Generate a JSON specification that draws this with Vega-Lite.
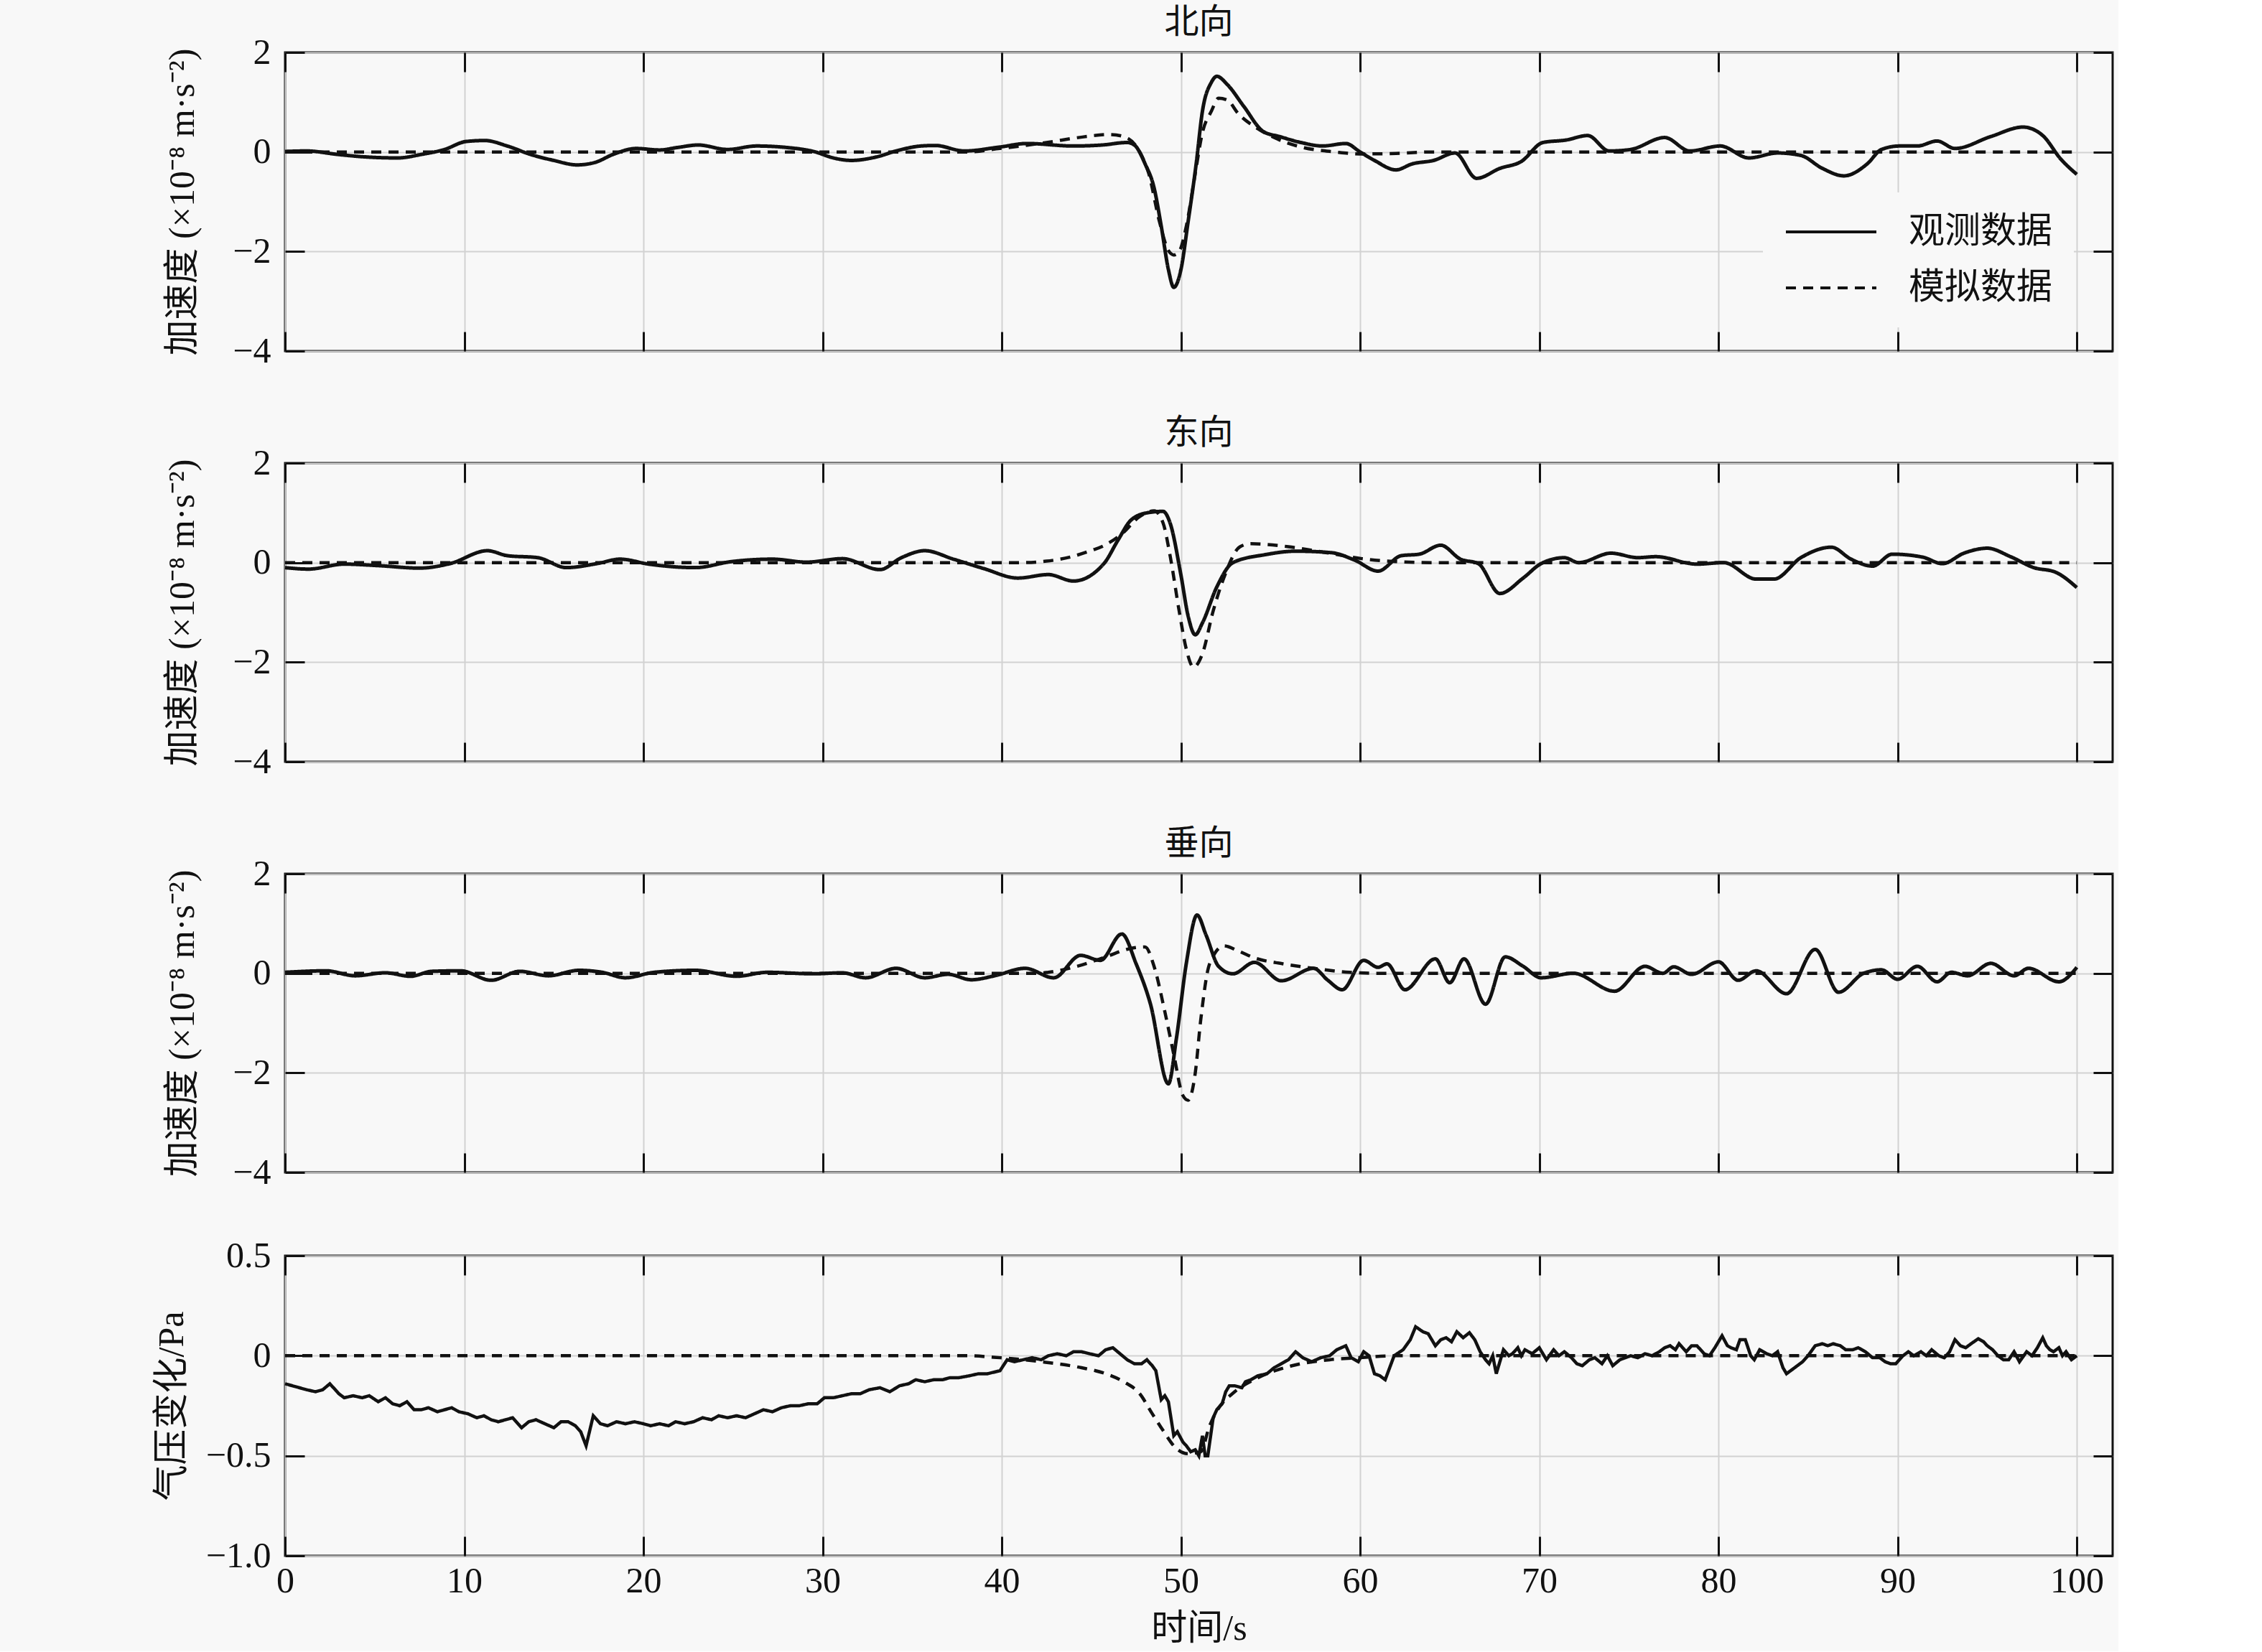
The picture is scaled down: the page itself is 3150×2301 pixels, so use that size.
{
  "$schema": "https://vega.github.io/schema/vega-lite/v6.json",
  "background": "#f8f8f8",
  "padding": {"left": 212, "top": 6, "right": 5, "bottom": 5},
  "spacing": 62,
  "datasets": {
    "n": [
      {"t":0,"v":0.01,"s":"观测数据"},{"t":1.2,"v":0.02,"s":"观测数据"},{"t":2.95,"v":-0.05,"s":"观测数据"},{"t":4.5,"v":-0.1,"s":"观测数据"},{"t":6.3,"v":-0.12,"s":"观测数据"},{"t":7.6,"v":-0.05,"s":"观测数据"},{"t":8.9,"v":0.05,"s":"观测数据"},{"t":10.1,"v":0.21,"s":"观测数据"},{"t":11.15,"v":0.23,"s":"观测数据"},{"t":12.4,"v":0.12,"s":"观测数据"},{"t":13.7,"v":-0.05,"s":"观测数据"},{"t":15,"v":-0.17,"s":"观测数据"},{"t":16.3,"v":-0.26,"s":"观测数据"},{"t":17.3,"v":-0.21,"s":"观测数据"},{"t":18.3,"v":-0.05,"s":"观测数据"},{"t":19.6,"v":0.07,"s":"观测数据"},{"t":20.9,"v":0.04,"s":"观测数据"},{"t":21.9,"v":0.09,"s":"观测数据"},{"t":23.05,"v":0.14,"s":"观测数据"},{"t":24.7,"v":0.05,"s":"观测数据"},{"t":26.3,"v":0.12,"s":"观测数据"},{"t":28,"v":0.09,"s":"观测数据"},{"t":29.6,"v":0,"s":"观测数据"},{"t":30.6,"v":-0.12,"s":"观测数据"},{"t":31.6,"v":-0.17,"s":"观测数据"},{"t":33,"v":-0.1,"s":"观测数据"},{"t":34.2,"v":0.03,"s":"观测数据"},{"t":35.5,"v":0.12,"s":"观测数据"},{"t":36.3,"v":0.13,"s":"观测数据"},{"t":37.9,"v":0.02,"s":"观测数据"},{"t":39.9,"v":0.1,"s":"观测数据"},{"t":41.4,"v":0.17,"s":"观测数据"},{"t":44,"v":0.12,"s":"观测数据"},{"t":45.6,"v":0.14,"s":"观测数据"},{"t":47,"v":0.19,"s":"观测数据"},{"t":47.4,"v":0.14,"s":"观测数据"},{"t":48,"v":-0.24,"s":"观测数据"},{"t":48.5,"v":-0.72,"s":"观测数据"},{"t":48.9,"v":-1.49,"s":"观测数据"},{"t":49.3,"v":-2.36,"s":"观测数据"},{"t":49.6,"v":-2.72,"s":"观测数据"},{"t":50,"v":-2.36,"s":"观测数据"},{"t":50.4,"v":-1.4,"s":"观测数据"},{"t":50.85,"v":-0.24,"s":"观测数据"},{"t":51.2,"v":0.82,"s":"观测数据"},{"t":51.7,"v":1.4,"s":"观测数据"},{"t":52,"v":1.52,"s":"观测数据"},{"t":52.6,"v":1.35,"s":"观测数据"},{"t":53.5,"v":0.92,"s":"观测数据"},{"t":54.6,"v":0.41,"s":"观测数据"},{"t":55.5,"v":0.31,"s":"观测数据"},{"t":56.7,"v":0.19,"s":"观测数据"},{"t":57.9,"v":0.12,"s":"观测数据"},{"t":59.2,"v":0.17,"s":"观测数据"},{"t":60,"v":0,"s":"观测数据"},{"t":60.8,"v":-0.17,"s":"观测数据"},{"t":62,"v":-0.36,"s":"观测数据"},{"t":62.9,"v":-0.24,"s":"观测数据"},{"t":64.1,"v":-0.17,"s":"观测数据"},{"t":65.3,"v":-0.02,"s":"观测数据"},{"t":66.5,"v":-0.53,"s":"观测数据"},{"t":67.8,"v":-0.33,"s":"观测数据"},{"t":69,"v":-0.19,"s":"观测数据"},{"t":70.2,"v":0.19,"s":"观测数据"},{"t":71.5,"v":0.24,"s":"观测数据"},{"t":72.7,"v":0.33,"s":"观测数据"},{"t":73.9,"v":0.02,"s":"观测数据"},{"t":75.1,"v":0.05,"s":"观测数据"},{"t":77,"v":0.29,"s":"观测数据"},{"t":78.4,"v":0.02,"s":"观测数据"},{"t":80.1,"v":0.12,"s":"观测数据"},{"t":81.7,"v":-0.12,"s":"观测数据"},{"t":83.3,"v":-0.02,"s":"观测数据"},{"t":84.6,"v":-0.07,"s":"观测数据"},{"t":85.8,"v":-0.33,"s":"观测数据"},{"t":87,"v":-0.48,"s":"观测数据"},{"t":88.3,"v":-0.24,"s":"观测数据"},{"t":89.1,"v":0.05,"s":"观测数据"},{"t":90.1,"v":0.12,"s":"观测数据"},{"t":91.1,"v":0.12,"s":"观测数据"},{"t":92.2,"v":0.22,"s":"观测数据"},{"t":93.2,"v":0.07,"s":"观测数据"},{"t":95.2,"v":0.31,"s":"观测数据"},{"t":97,"v":0.5,"s":"观测数据"},{"t":98.1,"v":0.33,"s":"观测数据"},{"t":99.1,"v":-0.14,"s":"观测数据"},{"t":100,"v":-0.45,"s":"观测数据"},
      {"t":0,"v":0,"s":"模拟数据"},{"t":38,"v":0,"s":"模拟数据"},{"t":39.9,"v":0.07,"s":"模拟数据"},{"t":42.5,"v":0.19,"s":"模拟数据"},{"t":44.5,"v":0.3,"s":"模拟数据"},{"t":46,"v":0.35,"s":"模拟数据"},{"t":46.8,"v":0.31,"s":"模拟数据"},{"t":47.7,"v":0,"s":"模拟数据"},{"t":48.2,"v":-0.43,"s":"模拟数据"},{"t":48.8,"v":-1.4,"s":"模拟数据"},{"t":49.3,"v":-1.98,"s":"模拟数据"},{"t":49.6,"v":-2.07,"s":"模拟数据"},{"t":49.9,"v":-2.0,"s":"模拟数据"},{"t":50.3,"v":-1.49,"s":"模拟数据"},{"t":50.8,"v":-0.43,"s":"模拟数据"},{"t":51.2,"v":0.39,"s":"模拟数据"},{"t":51.7,"v":0.82,"s":"模拟数据"},{"t":52.1,"v":1.08,"s":"模拟数据"},{"t":52.6,"v":1.04,"s":"模拟数据"},{"t":53.2,"v":0.77,"s":"模拟数据"},{"t":54.1,"v":0.51,"s":"模拟数据"},{"t":55.2,"v":0.29,"s":"模拟数据"},{"t":56.7,"v":0.1,"s":"模拟数据"},{"t":58.6,"v":0,"s":"模拟数据"},{"t":60,"v":-0.04,"s":"模拟数据"},{"t":62,"v":-0.03,"s":"模拟数据"},{"t":64,"v":0,"s":"模拟数据"},{"t":100,"v":0,"s":"模拟数据"}
    ],
    "e": [
      {"t":0,"v":-0.1,"s":"观测数据"},{"t":1.3,"v":-0.13,"s":"观测数据"},{"t":3.3,"v":-0.03,"s":"观测数据"},{"t":5.2,"v":-0.06,"s":"观测数据"},{"t":7.5,"v":-0.11,"s":"观测数据"},{"t":9.2,"v":-0.02,"s":"观测数据"},{"t":11.3,"v":0.24,"s":"观测数据"},{"t":12.4,"v":0.14,"s":"观测数据"},{"t":14.1,"v":0.1,"s":"观测数据"},{"t":15.7,"v":-0.1,"s":"观测数据"},{"t":17.4,"v":-0.02,"s":"观测数据"},{"t":18.7,"v":0.07,"s":"观测数据"},{"t":20.3,"v":-0.03,"s":"观测数据"},{"t":22.9,"v":-0.1,"s":"观测数据"},{"t":24.9,"v":0.02,"s":"观测数据"},{"t":27.2,"v":0.07,"s":"观测数据"},{"t":29.1,"v":0.01,"s":"观测数据"},{"t":31.1,"v":0.08,"s":"观测数据"},{"t":33.2,"v":-0.14,"s":"观测数据"},{"t":34.4,"v":0.1,"s":"观测数据"},{"t":35.7,"v":0.24,"s":"观测数据"},{"t":37.3,"v":0.07,"s":"观测数据"},{"t":39,"v":-0.12,"s":"观测数据"},{"t":40.9,"v":-0.31,"s":"观测数据"},{"t":42.6,"v":-0.24,"s":"观测数据"},{"t":44,"v":-0.37,"s":"观测数据"},{"t":45.7,"v":-0.02,"s":"观测数据"},{"t":46.5,"v":0.46,"s":"观测数据"},{"t":47.2,"v":0.85,"s":"观测数据"},{"t":48.1,"v":1.0,"s":"观测数据"},{"t":49,"v":1.03,"s":"观测数据"},{"t":49.4,"v":0.79,"s":"观测数据"},{"t":50,"v":-0.25,"s":"观测数据"},{"t":50.4,"v":-1.07,"s":"观测数据"},{"t":50.8,"v":-1.45,"s":"观测数据"},{"t":51.2,"v":-1.21,"s":"观测数据"},{"t":52,"v":-0.49,"s":"观测数据"},{"t":52.9,"v":0,"s":"观测数据"},{"t":54.7,"v":0.16,"s":"观测数据"},{"t":56.4,"v":0.23,"s":"观测数据"},{"t":58.4,"v":0.2,"s":"观测数据"},{"t":59.7,"v":0.05,"s":"观测数据"},{"t":61,"v":-0.17,"s":"观测数据"},{"t":62.3,"v":0.14,"s":"观测数据"},{"t":63.3,"v":0.17,"s":"观测数据"},{"t":64.5,"v":0.35,"s":"观测数据"},{"t":65.6,"v":0.07,"s":"观测数据"},{"t":66.6,"v":-0.02,"s":"观测数据"},{"t":67.8,"v":-0.62,"s":"观测数据"},{"t":69.1,"v":-0.31,"s":"观测数据"},{"t":70.1,"v":-0.02,"s":"观测数据"},{"t":71.4,"v":0.1,"s":"观测数据"},{"t":72.2,"v":0,"s":"观测数据"},{"t":74,"v":0.19,"s":"观测数据"},{"t":75.5,"v":0.1,"s":"观测数据"},{"t":76.5,"v":0.12,"s":"观测数据"},{"t":78.8,"v":-0.03,"s":"观测数据"},{"t":80.3,"v":0,"s":"观测数据"},{"t":82.1,"v":-0.33,"s":"观测数据"},{"t":83.1,"v":-0.33,"s":"观测数据"},{"t":84.6,"v":0.1,"s":"观测数据"},{"t":86.3,"v":0.31,"s":"观测数据"},{"t":87.4,"v":0.07,"s":"观测数据"},{"t":88.6,"v":-0.07,"s":"观测数据"},{"t":89.7,"v":0.17,"s":"观测数据"},{"t":91.4,"v":0.11,"s":"观测数据"},{"t":92.5,"v":-0.02,"s":"观测数据"},{"t":93.7,"v":0.19,"s":"观测数据"},{"t":95,"v":0.29,"s":"观测数据"},{"t":96.3,"v":0.12,"s":"观测数据"},{"t":97.6,"v":-0.1,"s":"观测数据"},{"t":98.8,"v":-0.19,"s":"观测数据"},{"t":100,"v":-0.5,"s":"观测数据"},
      {"t":0,"v":0,"s":"模拟数据"},{"t":41,"v":0,"s":"模拟数据"},{"t":42.5,"v":0.03,"s":"模拟数据"},{"t":43.9,"v":0.12,"s":"模拟数据"},{"t":44.8,"v":0.22,"s":"模拟数据"},{"t":45.8,"v":0.36,"s":"模拟数据"},{"t":46.8,"v":0.61,"s":"模拟数据"},{"t":47.6,"v":0.9,"s":"模拟数据"},{"t":48.5,"v":1.04,"s":"模拟数据"},{"t":49,"v":0.8,"s":"模拟数据"},{"t":49.4,"v":0.13,"s":"模拟数据"},{"t":49.9,"v":-0.97,"s":"模拟数据"},{"t":50.3,"v":-1.74,"s":"模拟数据"},{"t":50.7,"v":-2.1,"s":"模拟数据"},{"t":51.2,"v":-1.83,"s":"模拟数据"},{"t":51.8,"v":-0.97,"s":"模拟数据"},{"t":52.4,"v":-0.3,"s":"模拟数据"},{"t":53.3,"v":0.32,"s":"模拟数据"},{"t":53.9,"v":0.38,"s":"模拟数据"},{"t":54.6,"v":0.37,"s":"模拟数据"},{"t":56,"v":0.32,"s":"模拟数据"},{"t":57.8,"v":0.22,"s":"模拟数据"},{"t":60.1,"v":0.08,"s":"模拟数据"},{"t":62,"v":0.02,"s":"模拟数据"},{"t":64,"v":0,"s":"模拟数据"},{"t":100,"v":0,"s":"模拟数据"}
    ],
    "z": [
      {"t":0,"v":0.02,"s":"观测数据"},{"t":2.3,"v":0.05,"s":"观测数据"},{"t":3.9,"v":-0.05,"s":"观测数据"},{"t":5.6,"v":0.01,"s":"观测数据"},{"t":7,"v":-0.06,"s":"观测数据"},{"t":8.2,"v":0.04,"s":"观测数据"},{"t":9.8,"v":0.05,"s":"观测数据"},{"t":11.5,"v":-0.14,"s":"观测数据"},{"t":13.1,"v":0.04,"s":"观测数据"},{"t":14.7,"v":-0.05,"s":"观测数据"},{"t":16.4,"v":0.06,"s":"观测数据"},{"t":17.7,"v":0.02,"s":"观测数据"},{"t":19,"v":-0.09,"s":"观测数据"},{"t":20.6,"v":0.02,"s":"观测数据"},{"t":22.9,"v":0.06,"s":"观测数据"},{"t":25.2,"v":-0.06,"s":"观测数据"},{"t":26.9,"v":0.02,"s":"观测数据"},{"t":29.5,"v":-0.01,"s":"观测数据"},{"t":31.1,"v":0.01,"s":"观测数据"},{"t":32.4,"v":-0.09,"s":"观测数据"},{"t":34.1,"v":0.1,"s":"观测数据"},{"t":35.7,"v":-0.09,"s":"观测数据"},{"t":37,"v":-0.02,"s":"观测数据"},{"t":38.3,"v":-0.13,"s":"观测数据"},{"t":39.6,"v":-0.05,"s":"观测数据"},{"t":41.3,"v":0.1,"s":"观测数据"},{"t":42.9,"v":-0.09,"s":"观测数据"},{"t":44.4,"v":0.36,"s":"观测数据"},{"t":45.5,"v":0.26,"s":"观测数据"},{"t":46.7,"v":0.79,"s":"观测数据"},{"t":47.5,"v":0.19,"s":"观测数据"},{"t":48.3,"v":-0.62,"s":"观测数据"},{"t":49.3,"v":-2.22,"s":"观测数据"},{"t":49.75,"v":-1.3,"s":"观测数据"},{"t":50.3,"v":0.2,"s":"观测数据"},{"t":50.9,"v":1.17,"s":"观测数据"},{"t":51.4,"v":0.77,"s":"观测数据"},{"t":52.1,"v":0.14,"s":"观测数据"},{"t":52.9,"v":-0.01,"s":"观测数据"},{"t":54.1,"v":0.22,"s":"观测数据"},{"t":55.6,"v":-0.15,"s":"观测数据"},{"t":57.4,"v":0.1,"s":"观测数据"},{"t":58.2,"v":-0.14,"s":"观测数据"},{"t":59,"v":-0.33,"s":"观测数据"},{"t":60.2,"v":0.26,"s":"观测数据"},{"t":61,"v":0.12,"s":"观测数据"},{"t":61.5,"v":0.19,"s":"观测数据"},{"t":62.5,"v":-0.33,"s":"观测数据"},{"t":64.2,"v":0.29,"s":"观测数据"},{"t":65,"v":-0.19,"s":"观测数据"},{"t":65.8,"v":0.29,"s":"观测数据"},{"t":67,"v":-0.62,"s":"观测数据"},{"t":68.1,"v":0.33,"s":"观测数据"},{"t":69.1,"v":0.14,"s":"观测数据"},{"t":70.1,"v":-0.09,"s":"观测数据"},{"t":71.9,"v":0,"s":"观测数据"},{"t":74.2,"v":-0.36,"s":"观测数据"},{"t":75.9,"v":0.14,"s":"观测数据"},{"t":76.9,"v":0,"s":"观测数据"},{"t":77.5,"v":0.13,"s":"观测数据"},{"t":78.5,"v":-0.02,"s":"观测数据"},{"t":80,"v":0.23,"s":"观测数据"},{"t":81.1,"v":-0.14,"s":"观测数据"},{"t":82.1,"v":0.05,"s":"观测数据"},{"t":83.8,"v":-0.41,"s":"观测数据"},{"t":85.4,"v":0.48,"s":"观测数据"},{"t":86.7,"v":-0.38,"s":"观测数据"},{"t":88.1,"v":0,"s":"观测数据"},{"t":89.1,"v":0.07,"s":"观测数据"},{"t":90,"v":-0.12,"s":"观测数据"},{"t":91.1,"v":0.14,"s":"观测数据"},{"t":92.2,"v":-0.17,"s":"观测数据"},{"t":93,"v":0.02,"s":"观测数据"},{"t":93.9,"v":-0.05,"s":"观测数据"},{"t":95.2,"v":0.2,"s":"观测数据"},{"t":96.5,"v":-0.05,"s":"观测数据"},{"t":97.3,"v":0.1,"s":"观测数据"},{"t":99,"v":-0.17,"s":"观测数据"},{"t":100,"v":0.12,"s":"观测数据"},
      {"t":0,"v":0,"s":"模拟数据"},{"t":42,"v":0,"s":"模拟数据"},{"t":42.6,"v":0.02,"s":"模拟数据"},{"t":44.2,"v":0.14,"s":"模拟数据"},{"t":45.8,"v":0.33,"s":"模拟数据"},{"t":47.2,"v":0.5,"s":"模拟数据"},{"t":48,"v":0.53,"s":"模拟数据"},{"t":48.5,"v":0.14,"s":"模拟数据"},{"t":49.1,"v":-0.77,"s":"模拟数据"},{"t":49.6,"v":-1.63,"s":"模拟数据"},{"t":50.1,"v":-2.45,"s":"模拟数据"},{"t":50.4,"v":-2.55,"s":"模拟数据"},{"t":50.8,"v":-2.0,"s":"模拟数据"},{"t":51.1,"v":-0.95,"s":"模拟数据"},{"t":51.6,"v":0.19,"s":"模拟数据"},{"t":52.4,"v":0.55,"s":"模拟数据"},{"t":53.2,"v":0.45,"s":"模拟数据"},{"t":54.1,"v":0.31,"s":"模拟数据"},{"t":55.7,"v":0.19,"s":"模拟数据"},{"t":57.4,"v":0.1,"s":"模拟数据"},{"t":59.4,"v":0.02,"s":"模拟数据"},{"t":61,"v":0,"s":"模拟数据"},{"t":100,"v":0,"s":"模拟数据"}
    ],
    "p": [
      {"t":0,"v":-0.14,"s":"观测数据"},{"t":0.4,"v":-0.15,"s":"观测数据"},{"t":0.8,"v":-0.16,"s":"观测数据"},{"t":1.2,"v":-0.17,"s":"观测数据"},{"t":1.7,"v":-0.18,"s":"观测数据"},{"t":2.1,"v":-0.17,"s":"观测数据"},{"t":2.5,"v":-0.14,"s":"观测数据"},{"t":3,"v":-0.19,"s":"观测数据"},{"t":3.3,"v":-0.21,"s":"观测数据"},{"t":3.8,"v":-0.2,"s":"观测数据"},{"t":4.3,"v":-0.21,"s":"观测数据"},{"t":4.7,"v":-0.2,"s":"观测数据"},{"t":5.2,"v":-0.23,"s":"观测数据"},{"t":5.6,"v":-0.21,"s":"观测数据"},{"t":6,"v":-0.24,"s":"观测数据"},{"t":6.4,"v":-0.25,"s":"观测数据"},{"t":6.8,"v":-0.23,"s":"观测数据"},{"t":7.2,"v":-0.27,"s":"观测数据"},{"t":7.6,"v":-0.27,"s":"观测数据"},{"t":8,"v":-0.26,"s":"观测数据"},{"t":8.5,"v":-0.28,"s":"观测数据"},{"t":8.9,"v":-0.27,"s":"观测数据"},{"t":9.3,"v":-0.26,"s":"观测数据"},{"t":9.7,"v":-0.28,"s":"观测数据"},{"t":10.2,"v":-0.29,"s":"观测数据"},{"t":10.7,"v":-0.31,"s":"观测数据"},{"t":11.1,"v":-0.3,"s":"观测数据"},{"t":11.5,"v":-0.32,"s":"观测数据"},{"t":11.9,"v":-0.33,"s":"观测数据"},{"t":12.3,"v":-0.32,"s":"观测数据"},{"t":12.7,"v":-0.31,"s":"观测数据"},{"t":13.2,"v":-0.36,"s":"观测数据"},{"t":13.6,"v":-0.33,"s":"观测数据"},{"t":14,"v":-0.32,"s":"观测数据"},{"t":14.5,"v":-0.34,"s":"观测数据"},{"t":15,"v":-0.36,"s":"观测数据"},{"t":15.4,"v":-0.33,"s":"观测数据"},{"t":15.8,"v":-0.33,"s":"观测数据"},{"t":16.2,"v":-0.35,"s":"观测数据"},{"t":16.5,"v":-0.38,"s":"观测数据"},{"t":16.8,"v":-0.45,"s":"观测数据"},{"t":17.2,"v":-0.3,"s":"观测数据"},{"t":17.6,"v":-0.34,"s":"观测数据"},{"t":18,"v":-0.35,"s":"观测数据"},{"t":18.5,"v":-0.33,"s":"观测数据"},{"t":19,"v":-0.34,"s":"观测数据"},{"t":19.5,"v":-0.33,"s":"观测数据"},{"t":20,"v":-0.34,"s":"观测数据"},{"t":20.4,"v":-0.35,"s":"观测数据"},{"t":20.9,"v":-0.34,"s":"观测数据"},{"t":21.4,"v":-0.35,"s":"观测数据"},{"t":21.8,"v":-0.33,"s":"观测数据"},{"t":22.3,"v":-0.34,"s":"观测数据"},{"t":22.8,"v":-0.33,"s":"观测数据"},{"t":23.3,"v":-0.31,"s":"观测数据"},{"t":23.8,"v":-0.32,"s":"观测数据"},{"t":24.2,"v":-0.3,"s":"观测数据"},{"t":24.7,"v":-0.31,"s":"观测数据"},{"t":25.2,"v":-0.3,"s":"观测数据"},{"t":25.7,"v":-0.31,"s":"观测数据"},{"t":26.2,"v":-0.29,"s":"观测数据"},{"t":26.7,"v":-0.27,"s":"观测数据"},{"t":27.2,"v":-0.28,"s":"观测数据"},{"t":27.7,"v":-0.26,"s":"观测数据"},{"t":28.2,"v":-0.25,"s":"观测数据"},{"t":28.7,"v":-0.25,"s":"观测数据"},{"t":29.2,"v":-0.24,"s":"观测数据"},{"t":29.7,"v":-0.24,"s":"观测数据"},{"t":30.1,"v":-0.21,"s":"观测数据"},{"t":30.6,"v":-0.21,"s":"观测数据"},{"t":31.1,"v":-0.2,"s":"观测数据"},{"t":31.6,"v":-0.19,"s":"观测数据"},{"t":32.1,"v":-0.19,"s":"观测数据"},{"t":32.6,"v":-0.17,"s":"观测数据"},{"t":33.2,"v":-0.16,"s":"观测数据"},{"t":33.75,"v":-0.18,"s":"观测数据"},{"t":34.3,"v":-0.15,"s":"观测数据"},{"t":34.8,"v":-0.14,"s":"观测数据"},{"t":35.2,"v":-0.12,"s":"观测数据"},{"t":35.7,"v":-0.13,"s":"观测数据"},{"t":36.2,"v":-0.12,"s":"观测数据"},{"t":36.7,"v":-0.12,"s":"观测数据"},{"t":37.1,"v":-0.11,"s":"观测数据"},{"t":37.6,"v":-0.11,"s":"观测数据"},{"t":38.2,"v":-0.1,"s":"观测数据"},{"t":38.7,"v":-0.09,"s":"观测数据"},{"t":39.2,"v":-0.09,"s":"观测数据"},{"t":39.9,"v":-0.075,"s":"观测数据"},{"t":40.3,"v":-0.02,"s":"观测数据"},{"t":40.7,"v":-0.03,"s":"观测数据"},{"t":41.2,"v":-0.02,"s":"观测数据"},{"t":41.7,"v":-0.01,"s":"观测数据"},{"t":42.2,"v":-0.02,"s":"观测数据"},{"t":42.6,"v":0,"s":"观测数据"},{"t":43.1,"v":0.01,"s":"观测数据"},{"t":43.6,"v":0,"s":"观测数据"},{"t":44,"v":0.02,"s":"观测数据"},{"t":44.45,"v":0.02,"s":"观测数据"},{"t":44.9,"v":0.01,"s":"观测数据"},{"t":45.4,"v":0,"s":"观测数据"},{"t":45.8,"v":0.03,"s":"观测数据"},{"t":46.2,"v":0.04,"s":"观测数据"},{"t":46.6,"v":0.01,"s":"观测数据"},{"t":47,"v":-0.02,"s":"观测数据"},{"t":47.4,"v":-0.04,"s":"观测数据"},{"t":47.8,"v":-0.04,"s":"观测数据"},{"t":48.1,"v":-0.02,"s":"观测数据"},{"t":48.4,"v":-0.05,"s":"观测数据"},{"t":48.6,"v":-0.075,"s":"观测数据"},{"t":48.9,"v":-0.22,"s":"观测数据"},{"t":49.1,"v":-0.2,"s":"观测数据"},{"t":49.3,"v":-0.23,"s":"观测数据"},{"t":49.6,"v":-0.4,"s":"观测数据"},{"t":49.8,"v":-0.38,"s":"观测数据"},{"t":50.1,"v":-0.43,"s":"观测数据"},{"t":50.3,"v":-0.45,"s":"观测数据"},{"t":50.55,"v":-0.48,"s":"观测数据"},{"t":50.8,"v":-0.47,"s":"观测数据"},{"t":51,"v":-0.5,"s":"观测数据"},{"t":51.2,"v":-0.4,"s":"观测数据"},{"t":51.35,"v":-0.5,"s":"观测数据"},{"t":51.5,"v":-0.5,"s":"观测数据"},{"t":51.8,"v":-0.31,"s":"观测数据"},{"t":52,"v":-0.27,"s":"观测数据"},{"t":52.3,"v":-0.24,"s":"观测数据"},{"t":52.5,"v":-0.18,"s":"观测数据"},{"t":52.7,"v":-0.15,"s":"观测数据"},{"t":53,"v":-0.15,"s":"观测数据"},{"t":53.4,"v":-0.16,"s":"观测数据"},{"t":53.6,"v":-0.13,"s":"观测数据"},{"t":53.9,"v":-0.12,"s":"观测数据"},{"t":54.3,"v":-0.1,"s":"观测数据"},{"t":54.8,"v":-0.09,"s":"观测数据"},{"t":55.2,"v":-0.06,"s":"观测数据"},{"t":55.6,"v":-0.04,"s":"观测数据"},{"t":56,"v":-0.02,"s":"观测数据"},{"t":56.4,"v":0.02,"s":"观测数据"},{"t":56.8,"v":-0.01,"s":"观测数据"},{"t":57.3,"v":-0.03,"s":"观测数据"},{"t":57.8,"v":-0.01,"s":"观测数据"},{"t":58.3,"v":0,"s":"观测数据"},{"t":58.7,"v":0.03,"s":"观测数据"},{"t":59.2,"v":0.05,"s":"观测数据"},{"t":59.5,"v":-0.01,"s":"观测数据"},{"t":59.9,"v":-0.03,"s":"观测数据"},{"t":60.2,"v":0.02,"s":"观测数据"},{"t":60.5,"v":0,"s":"观测数据"},{"t":60.8,"v":-0.09,"s":"观测数据"},{"t":61.1,"v":-0.1,"s":"观测数据"},{"t":61.4,"v":-0.12,"s":"观测数据"},{"t":61.9,"v":0,"s":"观测数据"},{"t":62.4,"v":0.03,"s":"观测数据"},{"t":62.8,"v":0.08,"s":"观测数据"},{"t":63.1,"v":0.145,"s":"观测数据"},{"t":63.5,"v":0.12,"s":"观测数据"},{"t":63.8,"v":0.11,"s":"观测数据"},{"t":64.2,"v":0.05,"s":"观测数据"},{"t":64.5,"v":0.08,"s":"观测数据"},{"t":64.8,"v":0.09,"s":"观测数据"},{"t":65.1,"v":0.07,"s":"观测数据"},{"t":65.4,"v":0.12,"s":"观测数据"},{"t":65.75,"v":0.09,"s":"观测数据"},{"t":66.1,"v":0.115,"s":"观测数据"},{"t":66.4,"v":0.08,"s":"观测数据"},{"t":66.7,"v":0.02,"s":"观测数据"},{"t":67,"v":-0.02,"s":"观测数据"},{"t":67.2,"v":-0.04,"s":"观测数据"},{"t":67.4,"v":0,"s":"观测数据"},{"t":67.6,"v":-0.09,"s":"观测数据"},{"t":68,"v":0.03,"s":"观测数据"},{"t":68.3,"v":0,"s":"观测数据"},{"t":68.5,"v":0.01,"s":"观测数据"},{"t":68.8,"v":0.04,"s":"观测数据"},{"t":69,"v":0,"s":"观测数据"},{"t":69.2,"v":0.03,"s":"观测数据"},{"t":69.6,"v":0.01,"s":"观测数据"},{"t":70,"v":0.04,"s":"观测数据"},{"t":70.4,"v":-0.02,"s":"观测数据"},{"t":70.8,"v":0.03,"s":"观测数据"},{"t":71.1,"v":0,"s":"观测数据"},{"t":71.4,"v":0.02,"s":"观测数据"},{"t":71.8,"v":-0.01,"s":"观测数据"},{"t":72.1,"v":-0.04,"s":"观测数据"},{"t":72.4,"v":-0.05,"s":"观测数据"},{"t":72.8,"v":-0.02,"s":"观测数据"},{"t":73.1,"v":-0.01,"s":"观测数据"},{"t":73.5,"v":-0.04,"s":"观测数据"},{"t":73.8,"v":0,"s":"观测数据"},{"t":74.1,"v":-0.05,"s":"观测数据"},{"t":74.5,"v":-0.02,"s":"观测数据"},{"t":74.8,"v":-0.01,"s":"观测数据"},{"t":75.1,"v":0,"s":"观测数据"},{"t":75.5,"v":-0.01,"s":"观测数据"},{"t":75.9,"v":0.01,"s":"观测数据"},{"t":76.3,"v":0,"s":"观测数据"},{"t":76.7,"v":0.02,"s":"观测数据"},{"t":77,"v":0.04,"s":"观测数据"},{"t":77.3,"v":0.05,"s":"观测数据"},{"t":77.6,"v":0.03,"s":"观测数据"},{"t":77.8,"v":0.06,"s":"观测数据"},{"t":78.2,"v":0.02,"s":"观测数据"},{"t":78.5,"v":0.05,"s":"观测数据"},{"t":78.8,"v":0.05,"s":"观测数据"},{"t":79.2,"v":0.01,"s":"观测数据"},{"t":79.5,"v":0,"s":"观测数据"},{"t":79.8,"v":0.04,"s":"观测数据"},{"t":80.2,"v":0.1,"s":"观测数据"},{"t":80.5,"v":0.05,"s":"观测数据"},{"t":80.7,"v":0.04,"s":"观测数据"},{"t":81,"v":0.03,"s":"观测数据"},{"t":81.2,"v":0.08,"s":"观测数据"},{"t":81.5,"v":0.08,"s":"观测数据"},{"t":81.8,"v":0,"s":"观测数据"},{"t":82,"v":-0.02,"s":"观测数据"},{"t":82.3,"v":0.03,"s":"观测数据"},{"t":82.7,"v":0.01,"s":"观测数据"},{"t":83,"v":0,"s":"观测数据"},{"t":83.3,"v":0.02,"s":"观测数据"},{"t":83.6,"v":-0.06,"s":"观测数据"},{"t":83.8,"v":-0.09,"s":"观测数据"},{"t":84.1,"v":-0.07,"s":"观测数据"},{"t":84.4,"v":-0.05,"s":"观测数据"},{"t":84.7,"v":-0.03,"s":"观测数据"},{"t":85,"v":0,"s":"观测数据"},{"t":85.4,"v":0.05,"s":"观测数据"},{"t":85.8,"v":0.06,"s":"观测数据"},{"t":86.1,"v":0.05,"s":"观测数据"},{"t":86.4,"v":0.06,"s":"观测数据"},{"t":86.8,"v":0.05,"s":"观测数据"},{"t":87.1,"v":0.03,"s":"观测数据"},{"t":87.5,"v":0.03,"s":"观测数据"},{"t":87.8,"v":0.04,"s":"观测数据"},{"t":88.2,"v":0.02,"s":"观测数据"},{"t":88.6,"v":-0.01,"s":"观测数据"},{"t":89,"v":-0.01,"s":"观测数据"},{"t":89.3,"v":-0.03,"s":"观测数据"},{"t":89.6,"v":-0.04,"s":"观测数据"},{"t":89.9,"v":-0.04,"s":"观测数据"},{"t":90.3,"v":0,"s":"观测数据"},{"t":90.6,"v":0.02,"s":"观测数据"},{"t":90.9,"v":0,"s":"观测数据"},{"t":91.3,"v":0.02,"s":"观测数据"},{"t":91.6,"v":0,"s":"观测数据"},{"t":91.9,"v":0.03,"s":"观测数据"},{"t":92.3,"v":0,"s":"观测数据"},{"t":92.6,"v":-0.01,"s":"观测数据"},{"t":92.9,"v":0.02,"s":"观测数据"},{"t":93.2,"v":0.08,"s":"观测数据"},{"t":93.5,"v":0.05,"s":"观测数据"},{"t":93.8,"v":0.04,"s":"观测数据"},{"t":94.1,"v":0.06,"s":"观测数据"},{"t":94.5,"v":0.085,"s":"观测数据"},{"t":94.8,"v":0.07,"s":"观测数据"},{"t":95,"v":0.05,"s":"观测数据"},{"t":95.3,"v":0.03,"s":"观测数据"},{"t":95.6,"v":0,"s":"观测数据"},{"t":95.9,"v":-0.02,"s":"观测数据"},{"t":96.2,"v":-0.02,"s":"观测数据"},{"t":96.5,"v":0.02,"s":"观测数据"},{"t":96.8,"v":-0.03,"s":"观测数据"},{"t":97.2,"v":0.02,"s":"观测数据"},{"t":97.5,"v":0,"s":"观测数据"},{"t":97.8,"v":0.04,"s":"观测数据"},{"t":98.1,"v":0.09,"s":"观测数据"},{"t":98.3,"v":0.05,"s":"观测数据"},{"t":98.5,"v":0.03,"s":"观测数据"},{"t":98.7,"v":0.02,"s":"观测数据"},{"t":99,"v":0.04,"s":"观测数据"},{"t":99.2,"v":0,"s":"观测数据"},{"t":99.4,"v":0.02,"s":"观测数据"},{"t":99.7,"v":-0.02,"s":"观测数据"},{"t":100,"v":0,"s":"观测数据"},
      {"t":0,"v":0,"s":"模拟数据"},{"t":38,"v":0,"s":"模拟数据"},{"t":39.9,"v":-0.01,"s":"模拟数据"},{"t":42.2,"v":-0.03,"s":"模拟数据"},{"t":44.45,"v":-0.06,"s":"模拟数据"},{"t":45.8,"v":-0.09,"s":"模拟数据"},{"t":46.8,"v":-0.13,"s":"模拟数据"},{"t":47.7,"v":-0.19,"s":"模拟数据"},{"t":48.4,"v":-0.29,"s":"模拟数据"},{"t":49.05,"v":-0.38,"s":"模拟数据"},{"t":49.7,"v":-0.46,"s":"模拟数据"},{"t":50.4,"v":-0.49,"s":"模拟数据"},{"t":51.1,"v":-0.48,"s":"模拟数据"},{"t":51.6,"v":-0.35,"s":"模拟数据"},{"t":52.05,"v":-0.27,"s":"模拟数据"},{"t":53,"v":-0.18,"s":"模拟数据"},{"t":54.3,"v":-0.11,"s":"模拟数据"},{"t":56.2,"v":-0.05,"s":"模拟数据"},{"t":58.3,"v":-0.02,"s":"模拟数据"},{"t":60,"v":-0.01,"s":"模拟数据"},{"t":62,"v":0,"s":"模拟数据"},{"t":100,"v":0,"s":"模拟数据"}
    ]
  },
  "config": {
    "font": "Liberation Serif, Noto Sans CJK SC",
    "view": {"stroke": "#111111", "strokeWidth": 3, "fill": "#f8f8f8"},
    "axis": {
      "labelFont": "Liberation Serif, Noto Sans CJK SC", "labelFontSize": 50, "labelColor": "#111111",
      "titleFont": "Liberation Serif, Noto Sans CJK SC", "titleFontSize": 50, "titleFontWeight": "normal", "titleColor": "#111111",
      "gridColor": "#d2d2d2", "gridWidth": 2, "domain": false, "labelFlush": false,
      "tickColor": "#111111", "tickWidth": 3, "tickSize": -27, "labelPadding": 47
    },
    "title": {"font": "Liberation Serif, Noto Sans CJK SC", "fontSize": 48, "fontWeight": "normal", "color": "#111111", "offset": -8}
  },
  "resolve": {"scale": {"strokeDash": "independent"}, "legend": {"strokeDash": "independent"}},
  "vconcat": [
    {
      "width": 2545, "height": 416,
      "title": {"text": "北向"},
      "data": {"name": "n"},
      "layer": [
        {
          "transform": [{"filter": "datum.s == '观测数据'"}],
          "mark": {"type": "line", "interpolate": "monotone", "strokeWidth": 5, "color": "#111111"},
          "encoding": {
            "x": {"field": "t", "type": "quantitative", "scale": {"domain": [0, 102], "nice": false}, "axis": {"orient": "bottom", "values": [0,10,20,30,40,50,60,70,80,90,100], "labels": false, "title": null, "grid": true}},
            "y": {"field": "v", "type": "quantitative", "scale": {"domain": [-4, 2], "nice": false, "zero": false}, "axis": {"orient": "left", "values": [-4,-2,0,2], "title": "加速度 (×10⁻⁸ m·s⁻²)", "titleX": -118, "titleY": 208, "grid": true}},
            "strokeDash": {"field": "s", "type": "nominal", "scale": {"domain": ["观测数据", "模拟数据"], "range": [[1, 0], [14, 10]]},
              "legend": {"orient": "none", "legendX": 2058, "legendY": 195, "title": null, "symbolType": "stroke", "symbolSize": 15876, "symbolStrokeWidth": 4, "symbolStrokeColor": "#111111", "clipHeight": 50, "rowPadding": 28, "padding": 30, "labelOffset": 43, "labelFontSize": 50, "labelFont": "Liberation Serif, Noto Sans CJK SC", "labelColor": "#111111", "labelLimit": 500, "fillColor": "#f8f8f8"}}
          }
        },
        {
          "transform": [{"filter": "datum.s == '模拟数据'"}],
          "mark": {"type": "line", "interpolate": "monotone", "strokeWidth": 4.5, "color": "#111111"},
          "encoding": {
            "x": {"field": "t", "type": "quantitative", "axis": {"orient": "top", "values": [0,10,20,30,40,50,60,70,80,90,100], "labels": false, "title": null, "grid": false}},
            "y": {"field": "v", "type": "quantitative", "axis": {"orient": "right", "values": [-4,-2,0,2], "labels": false, "title": null, "grid": false}},
            "strokeDash": {"field": "s", "type": "nominal"}
          }
        }
      ],
      "resolve": {"axis": {"x": "independent", "y": "independent"}}
    },
    {
      "width": 2545, "height": 416,
      "title": {"text": "东向"},
      "data": {"name": "e"},
      "layer": [
        {
          "transform": [{"filter": "datum.s == '观测数据'"}],
          "mark": {"type": "line", "interpolate": "monotone", "strokeWidth": 5, "color": "#111111"},
          "encoding": {
            "x": {"field": "t", "type": "quantitative", "scale": {"domain": [0, 102], "nice": false}, "axis": {"orient": "bottom", "values": [0,10,20,30,40,50,60,70,80,90,100], "labels": false, "title": null, "grid": true}},
            "y": {"field": "v", "type": "quantitative", "scale": {"domain": [-4, 2], "nice": false, "zero": false}, "axis": {"orient": "left", "values": [-4,-2,0,2], "title": "加速度 (×10⁻⁸ m·s⁻²)", "titleX": -118, "titleY": 208, "grid": true}},
            "strokeDash": {"field": "s", "type": "nominal", "scale": {"domain": ["观测数据", "模拟数据"], "range": [[1, 0], [14, 10]]}, "legend": null}
          }
        },
        {
          "transform": [{"filter": "datum.s == '模拟数据'"}],
          "mark": {"type": "line", "interpolate": "monotone", "strokeWidth": 4.5, "color": "#111111"},
          "encoding": {
            "x": {"field": "t", "type": "quantitative", "axis": {"orient": "top", "values": [0,10,20,30,40,50,60,70,80,90,100], "labels": false, "title": null, "grid": false}},
            "y": {"field": "v", "type": "quantitative", "axis": {"orient": "right", "values": [-4,-2,0,2], "labels": false, "title": null, "grid": false}},
            "strokeDash": {"field": "s", "type": "nominal", "legend": null}
          }
        }
      ],
      "resolve": {"axis": {"x": "independent", "y": "independent"}}
    },
    {
      "width": 2545, "height": 416,
      "title": {"text": "垂向"},
      "data": {"name": "z"},
      "layer": [
        {
          "transform": [{"filter": "datum.s == '观测数据'"}],
          "mark": {"type": "line", "interpolate": "monotone", "strokeWidth": 5, "color": "#111111"},
          "encoding": {
            "x": {"field": "t", "type": "quantitative", "scale": {"domain": [0, 102], "nice": false}, "axis": {"orient": "bottom", "values": [0,10,20,30,40,50,60,70,80,90,100], "labels": false, "title": null, "grid": true}},
            "y": {"field": "v", "type": "quantitative", "scale": {"domain": [-4, 2], "nice": false, "zero": false}, "axis": {"orient": "left", "values": [-4,-2,0,2], "title": "加速度 (×10⁻⁸ m·s⁻²)", "titleX": -118, "titleY": 208, "grid": true}},
            "strokeDash": {"field": "s", "type": "nominal", "scale": {"domain": ["观测数据", "模拟数据"], "range": [[1, 0], [14, 10]]}, "legend": null}
          }
        },
        {
          "transform": [{"filter": "datum.s == '模拟数据'"}],
          "mark": {"type": "line", "interpolate": "monotone", "strokeWidth": 4.5, "color": "#111111"},
          "encoding": {
            "x": {"field": "t", "type": "quantitative", "axis": {"orient": "top", "values": [0,10,20,30,40,50,60,70,80,90,100], "labels": false, "title": null, "grid": false}},
            "y": {"field": "v", "type": "quantitative", "axis": {"orient": "right", "values": [-4,-2,0,2], "labels": false, "title": null, "grid": false}},
            "strokeDash": {"field": "s", "type": "nominal", "legend": null}
          }
        }
      ],
      "resolve": {"axis": {"x": "independent", "y": "independent"}}
    },
    {
      "width": 2545, "height": 418,
      "data": {"name": "p"},
      "layer": [
        {
          "transform": [{"filter": "datum.s == '观测数据'"}],
          "mark": {"type": "line", "interpolate": "linear", "strokeWidth": 4.5, "color": "#111111"},
          "encoding": {
            "x": {"field": "t", "type": "quantitative", "scale": {"domain": [0, 102], "nice": false}, "axis": {"orient": "bottom", "values": [0,10,20,30,40,50,60,70,80,90,100], "labels": true, "labelPadding": 37, "title": "时间/s", "titleY": 76, "grid": true}},
            "y": {"field": "v", "type": "quantitative", "scale": {"domain": [-1, 0.5], "nice": false, "zero": false}, "axis": {"orient": "left", "values": [-1,-0.5,0,0.5], "labelExpr": "datum.value == 0 ? '0' : format(datum.value, '.1f')", "title": "气压变化/Pa", "titleX": -133, "titleY": 209, "grid": true}},
            "strokeDash": {"field": "s", "type": "nominal", "scale": {"domain": ["观测数据", "模拟数据"], "range": [[1, 0], [14, 10]]}, "legend": null}
          }
        },
        {
          "transform": [{"filter": "datum.s == '模拟数据'"}],
          "mark": {"type": "line", "interpolate": "monotone", "strokeWidth": 4.5, "color": "#111111"},
          "encoding": {
            "x": {"field": "t", "type": "quantitative", "axis": {"orient": "top", "values": [0,10,20,30,40,50,60,70,80,90,100], "labels": false, "title": null, "grid": false}},
            "y": {"field": "v", "type": "quantitative", "axis": {"orient": "right", "values": [-1,-0.5,0,0.5], "labels": false, "title": null, "grid": false}},
            "strokeDash": {"field": "s", "type": "nominal", "legend": null}
          }
        }
      ],
      "resolve": {"axis": {"x": "independent", "y": "independent"}}
    }
  ]
}
